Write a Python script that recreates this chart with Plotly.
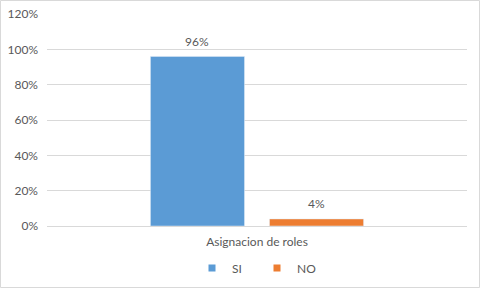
import plotly.graph_objects as go

categories = ["Asignacion de roles"]
series_names = ["SI", "NO"]
si_values = [0.96]
no_values = [0.04]
colors = ["#5B9BD5", "#ED7D31"]

W, H = 481, 289
ml, mr, mt, mb = 47, 14, 14, 63
pw, ph = W - ml - mr, H - mt - mb
bargap, bargroupgap = 0.433, 0.21
slot_px = pw * (1 - bargap) / 2

fig = go.Figure()
annotations = []
for i, (name, vals, c) in enumerate(zip(series_names, [si_values, no_values], colors)):
    fig.add_trace(go.Bar(
        x=categories, y=vals, name=name, marker_color=c, showlegend=False,
    ))
    fig.add_trace(go.Scatter(
        x=[None], y=[None], mode="markers", name=name,
        marker=dict(symbol="square", size=7, color=c), showlegend=True,
    ))
    for cat, v in zip(categories, vals):
        annotations.append(dict(
            x=cat, y=v, xref="x", yref="y", text=f"{v*100:.0f}%", showarrow=False,
            xshift=(i - 0.5) * slot_px, yshift=15, yanchor="middle",
            font=dict(size=12, color="#595959"),
        ))

fig.update_layout(
    width=W, height=H,
    margin=dict(l=ml, r=mr, t=mt, b=mb, autoexpand=False),
    paper_bgcolor="white", plot_bgcolor="white",
    font=dict(family="Lato, Open Sans, sans-serif", color="#595959", size=12),
    barmode="group", bargap=bargap, bargroupgap=bargroupgap,
    showlegend=True,
    legend=dict(orientation="h", x=0.5, xanchor="center", y=-(268 - 226) / ph, yanchor="middle",
                font=dict(size=12, color="#595959"), itemwidth=30, traceorder="normal",
                entrywidth=20, entrywidthmode="pixels",
                bgcolor="rgba(0,0,0,0)"),
    xaxis=dict(showgrid=False, showline=True, linecolor="#D9D9D9", ticks="",
               ticklabelstandoff=5, tickfont=dict(size=12, color="#595959")),
    yaxis=dict(range=[0, 1.2], dtick=0.2, tickformat=".0%", showgrid=True, gridcolor="#D9D9D9",
               zeroline=False, showline=False, ticks="", ticklabelstandoff=8,
               tickfont=dict(size=12, color="#595959")),
    annotations=annotations,
    shapes=[dict(type="rect", xref="paper", yref="paper",
                 x0=-(ml - 0.5) / pw, x1=1 + (mr - 1.5) / pw,
                 y0=-(mb - 1.5) / ph, y1=1 + (mt - 0.5) / ph,
                 line=dict(color="#D9D9D9", width=1), layer="below")],
)

fig.write_html("out.html")
